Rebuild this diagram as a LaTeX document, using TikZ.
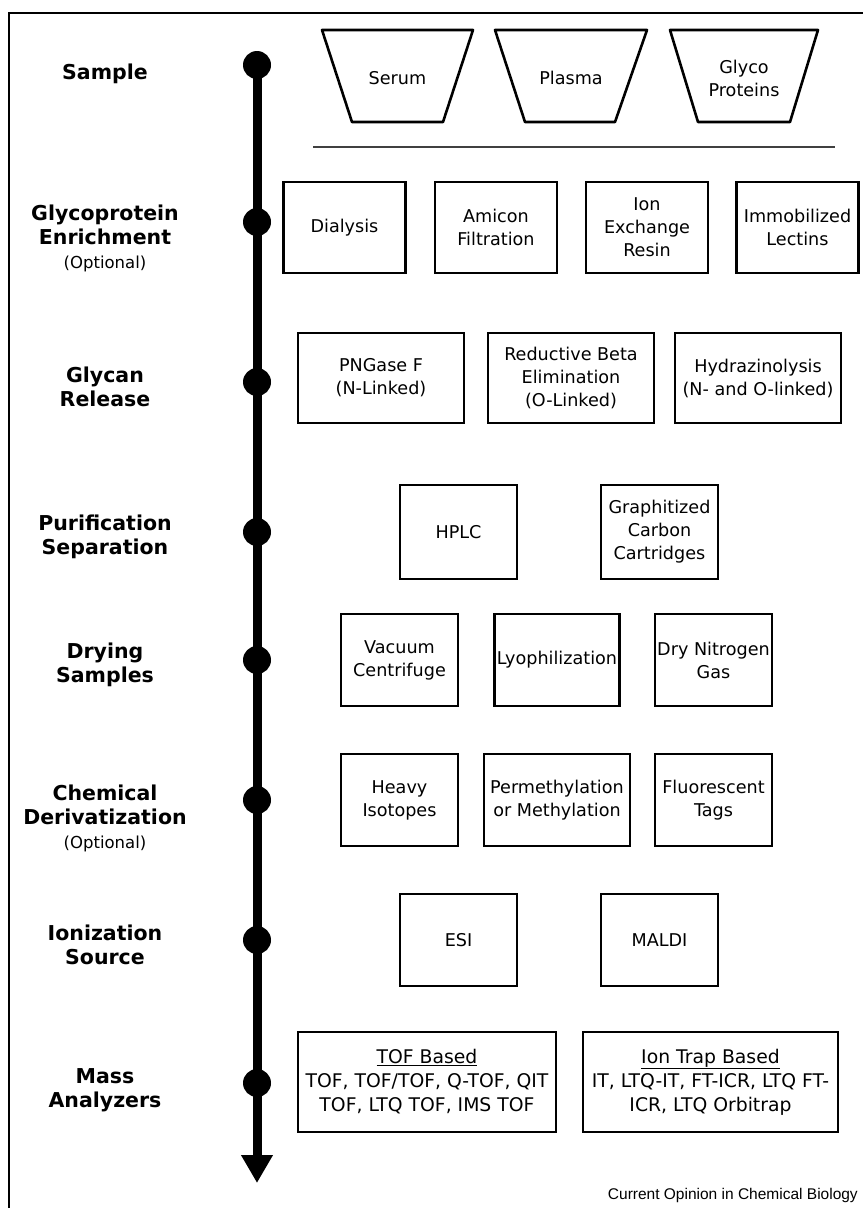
\documentclass[tikz,border=0pt]{standalone}
\usepackage{fontspec}
\setmainfont{DejaVu Sans}
\newfontfamily\credfont{Liberation Sans}
\usetikzlibrary{arrows.meta}
\tikzset{
  stepbox/.style={draw, line width=2.6pt, align=center, inner sep=0pt,
    font=\fontsize{17.6}{23}\selectfont},
  steplabel/.style={align=center, inner sep=0pt, font=\bfseries\fontsize{20.5}{24}\selectfont},
  dotnode/.style={circle, fill=black, minimum size=28pt, inner sep=0pt},
  traptext/.style={align=center, inner sep=0pt, font=\fontsize{17.6}{23}\selectfont},
  trap/.style={draw, line width=2.6pt, line join=round},
}
\newcommand{\opt}{{\mdseries\fontsize{16.5}{20}\selectfont (Optional)}}
\begin{document}
\begin{tikzpicture}[x=1pt,y=-1pt]
\path[fill=white,use as bounding box] (0,0) rectangle (863,1208);
% frame
\coordinate (fbl) at (9,1208);
\coordinate (ftl) at (9,13);
\coordinate (ftr) at (863,13);
\draw[line width=1.5pt] (fbl) -- (ftl) -- (ftr);

% timeline
\coordinate (tip) at (257,1183);
\node[dotnode] (d1) at (257,65) {};
\node[dotnode] (d2) at (257,222) {};
\node[dotnode] (d3) at (257,382) {};
\node[dotnode] (d4) at (257,532) {};
\node[dotnode] (d5) at (257,660) {};
\node[dotnode] (d6) at (257,800) {};
\node[dotnode] (d7) at (257,940) {};
\node[dotnode] (d8) at (257,1083) {};
\draw[line width=9pt, -{Triangle[width=30pt,length=28pt]}] (d1.center) -- (tip);

% labels
\node[steplabel] (l1) at (105,74) {Sample};
\node[steplabel] (l2) at (105,238) {Glycoprotein\\Enrichment\\\opt};
\node[steplabel] (l3) at (105,387) {Glycan\\Release};
\node[steplabel] (l4) at (105,537) {Purification\\Separation};
\node[steplabel] (l5) at (105,665) {Drying\\Samples};
\node[steplabel] (l6) at (105,818) {Chemical\\Derivatization\\\opt};
\node[steplabel] (l7) at (105,945) {Ionization\\Source};
\node[steplabel] (l8) at (105,1090) {Mass\\Analyzers};

% sample trapezoids
\draw[trap] (322,30) -- (473,30) -- (443,122) -- (352,122) -- cycle;
\node[traptext] (serum) at (397.5,78) {Serum};
\draw[trap] (495,30) -- (647,30) -- (615,122) -- (525,122) -- cycle;
\node[traptext] (plasma) at (571,78) {Plasma};
\draw[trap] (670,30) -- (818,30) -- (790,122) -- (698,122) -- cycle;
\node[traptext] (glyco) at (744,78) {Glyco\\Proteins};

% separator
\coordinate (sepl) at (313,147);
\coordinate (sepr) at (835,147);
\draw[line width=1.2pt, black!75] (sepl) -- (sepr);

% row 2
\begin{scope}[every node/.append style={stepbox, minimum width=122pt, minimum height=91pt}]
\node (dia) at (344.5,227.5) {Dialysis};
\node (ami) at (496,227.5) {Amicon\\Filtration};
\node (ion) at (647,227.5) {Ion\\Exchange\\Resin};
\node (imm) at (797.5,227.5) {Immobilized\\Lectins};
\end{scope}

% row 3
\begin{scope}[every node/.append style={stepbox, minimum width=166pt, minimum height=90pt}]
\node (png) at (381,378) {PNGase F\\(N-Linked)};
\node (red) at (571,378) {Reductive Beta\\Elimination\\(O-Linked)};
\node (hyd) at (758,378) {Hydrazinolysis\\(N- and O-linked)};
\end{scope}

% row 4
\begin{scope}[every node/.append style={stepbox, minimum width=117pt, minimum height=94pt}]
\node (hplc) at (458.5,532) {HPLC};
\node (gcc) at (659.5,532) {Graphitized\\Carbon\\Cartridges};
\end{scope}

% row 5
\begin{scope}[every node/.append style={stepbox, minimum height=92pt}]
\node[minimum width=117pt] (vac) at (399.5,660) {Vacuum\\Centrifuge};
\node[minimum width=125pt] (lyo) at (557,660) {Lyophilization};
\node[minimum width=117pt] (dng) at (713.5,660) {Dry Nitrogen\\Gas};
\end{scope}

% row 6
\begin{scope}[every node/.append style={stepbox, minimum height=92pt}]
\node[minimum width=117pt] (hvy) at (399.5,800) {Heavy\\Isotopes};
\node[minimum width=146pt] (per) at (557,800) {Permethylation\\or Methylation};
\node[minimum width=117pt] (flu) at (713.5,800) {Fluorescent\\Tags};
\end{scope}

% row 7
\begin{scope}[every node/.append style={stepbox, minimum width=117pt, minimum height=92pt}]
\node (esi) at (458.5,940) {ESI};
\node (mal) at (659.5,940) {MALDI};
\end{scope}

% row 8
\begin{scope}[every node/.append style={stepbox, minimum height=100pt, font=\fontsize{18.8}{24}\selectfont}]
\node[minimum width=258pt] (tof) at (427,1082) {\underline{TOF Based}\\TOF, TOF/TOF, Q-TOF, QIT\\TOF, LTQ TOF, IMS TOF};
\node[minimum width=255pt] (itb) at (710.5,1082) {\underline{Ion Trap Based}\\IT, LTQ-IT, FT-ICR, LTQ FT-\\ICR, LTQ Orbitrap};
\end{scope}

\node[anchor=base east, inner sep=0pt, font=\credfont\fontsize{15.5}{18}\selectfont] (credit) at (858,1199) {Current Opinion in Chemical Biology};
\end{tikzpicture}
\end{document}
